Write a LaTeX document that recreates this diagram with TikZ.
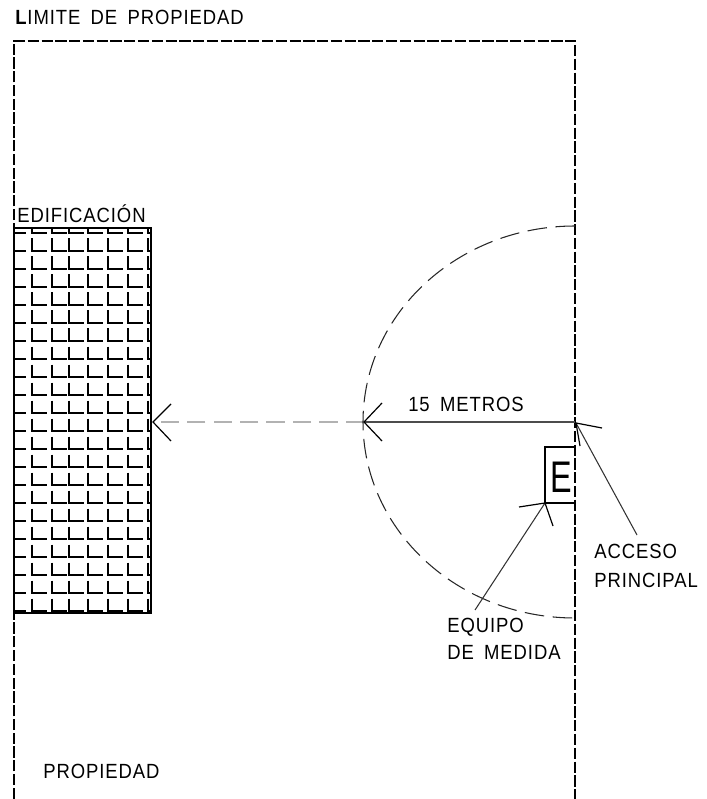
\documentclass[tikz,border=0pt]{standalone}
\usepackage{fontspec}
\setmainfont{Liberation Sans}
\usepackage{tikz}
\usetikzlibrary{arrows.meta,calc,positioning}
\newcommand{\planofont}{\fontsize{14.6}{17}\selectfont\addfontfeatures{FakeStretch=0.9,LetterSpace=4.5}}

\tikzset{
    lindero/.style={line width=0.95pt, dash pattern=on 8pt off 1.8pt},
    muro/.style={line width=0.8pt},
    rotulo/.style={anchor=base west, inner sep=0pt, font=\planofont},
    barba/.style={line width=0.85pt}
}

\begin{document}
\begin{tikzpicture}[x=0.025cm,y=-0.025cm]
    \useasboundingbox (0,0) rectangle (706,799);

    % Property limit
    \coordinate (esqA) at (14,799);
    \coordinate (esqB) at (14,41);
    \coordinate (esqC) at (575,41);
    \coordinate (esqD) at (575,799);
    \draw[lindero] (esqA) -- (esqB) -- (esqC) -- (esqD);
    \node[rotulo] (limite) at (15,25) {\textbf{L}IMITE\hspace{0.5em}DE\hspace{0.5em}PROPIEDAD};

    % Building with its brick pattern
    \begin{scope}
        \clip (14,228) rectangle (151,613);
        \foreach \row in {0,...,21} {
            \draw[muro] (14,{233+18*\row}) -- (26,{233+18*\row});
            \foreach \col in {32,52,69,88,108,128,148} {
                \draw[muro] (\col,{220.5+18*\row}) -- (\col,{233+18*\row}) -- ({\col+15},{233+18*\row});
            }
        }
    \end{scope}
    \draw[line width=1pt] (14,228) rectangle (151,613);
    \node[rotulo] (edificacion) at (17,223) {EDIFICACIÓN};

    % Radius of 15 metres
    \coordinate (acceso) at (575,422);
    \coordinate (radio) at (364,422);
    \coordinate (muroPto) at (153,422);
    \draw[line width=1pt, black!70] (acceso) -- (radio);
    \draw[line width=1.5pt, gray!60, dash pattern=on 13pt off 5.8pt] (radio) -- (muroPto);
    \draw[barba] (382,403) -- (radio) -- (382,441);
    \draw[barba] (171,404) -- (muroPto) -- (171,441);
    \node[rotulo] (metros) at (408,411) {15\hspace{0.5em}METROS};

    % Dashed arc around the access
    \draw[line width=0.75pt, black!85, dash pattern=on 14pt off 6pt]
        (575,226) arc[start angle=-90, end angle=-270, x radius=212, y radius=196];

    % Meter box
    \draw[line width=0.85pt] (575,447) -- (545,447) -- (545,503) -- (575,503);
    \node[anchor=base west, inner sep=0pt, font=\fontsize{31.5}{34}\selectfont\addfontfeatures{FakeStretch=0.73}] (letraE) at (550,492) {E};

    % Leader to the main access
    \coordinate (puntaAcceso) at (576,423);
    \coordinate (colaAcceso) at (637,535);
    \draw[line width=0.75pt, black!80] (colaAcceso) -- (puntaAcceso);
    \draw[barba] (602,428) -- (puntaAcceso) -- (580,446);
    \node[rotulo] (accesoTxt) at (594,558) {ACCESO};
    \node[rotulo] (principal) at (594,587) {PRINCIPAL};

    % Leader to the meter
    \coordinate (puntaEquipo) at (545,503);
    \coordinate (colaEquipo) at (475,610);
    \draw[line width=0.75pt, black!80] (colaEquipo) -- (puntaEquipo);
    \draw[barba] (519,507) -- (puntaEquipo) -- (553,526);
    \node[rotulo] (equipo) at (447,632) {EQUIPO};
    \node[rotulo] (medida) at (447,659) {DE\hspace{0.5em}MEDIDA};

    \node[rotulo] (propiedad) at (43,778) {PROPIEDAD};
\end{tikzpicture}
\end{document}
